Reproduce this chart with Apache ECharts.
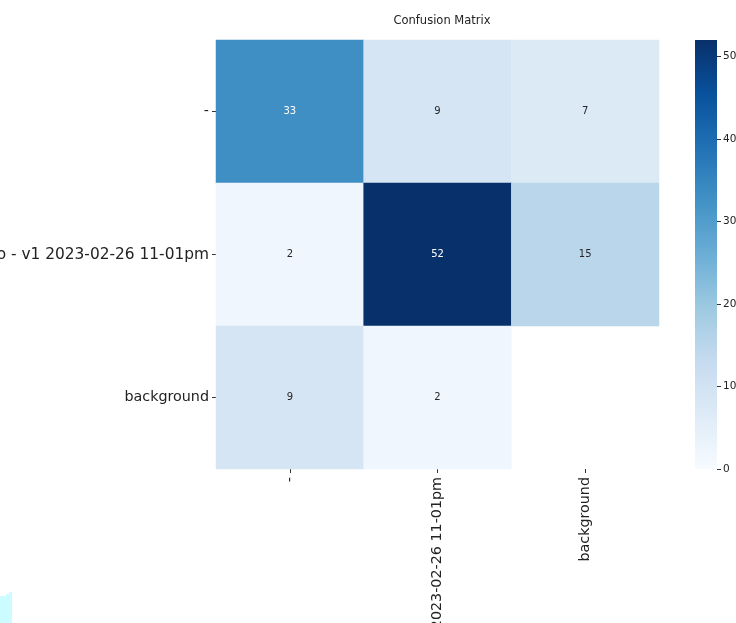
<!DOCTYPE html>
<html>
<head>
<meta charset="utf-8">
<script src="https://cdn.jsdelivr.net/npm/echarts@6/dist/echarts.min.js"></script>
<style>
  html, body { margin: 0; padding: 0; background: #ffffff; }
  #chart { width: 736px; height: 623px; }
</style>
</head>
<body>
<div id="chart"></div>
<script>
// Class names (predicted on x, true on y)
const classNames = ['-', 'logo - v1 2023-02-26 11-01pm', 'background'];

// Count matrix rows (true class), columns (predicted class); null = empty cell
const rowDash = [33, 9, 7];
const rowLogo = [2, 52, 15];
const rowBackground = [9, 2, null];

// Colour bar scale
const colorMin = 0;
const colorMax = 52;
const colorTicks = [0, 10, 20, 30, 40, 50];

// Matplotlib "Blues" colormap stops
const blues = ['#f7fbff', '#deebf7', '#c6dbef', '#9ecae1', '#6baed6',
               '#4292c6', '#2171b5', '#08519c', '#08306b'];

const matrix = [rowDash, rowLogo, rowBackground];
const cells = [];
matrix.forEach((row, r) => {
  row.forEach((v, c) => {
    if (v === null) return;
    cells.push({
      value: [c, r, v],
      label: { color: v > 30 ? '#ffffff' : '#262626' }
    });
  });
});

// Vertical gradient for the colour bar (top = max)
const barGradient = new echarts.graphic.LinearGradient(0, 0, 0, 1,
  blues.slice().reverse().map((c, i) => ({ offset: i / (blues.length - 1), color: c })));

const font = 'DejaVu Sans';
const chart = echarts.init(document.getElementById('chart'), null, { renderer: 'canvas' });

chart.setOption({
  backgroundColor: '#ffffff',
  animation: false,
  title: {
    text: 'Confusion Matrix',
    left: 437,
    top: 10,
    textAlign: 'center',
    textStyle: { fontFamily: font, fontSize: 11.5, fontWeight: 'normal', color: '#222' }
  },
  grid: [
    { left: 216, top: 40, width: 443, height: 429, containLabel: false, outerBoundsMode: 'none' },
    { left: 695, top: 40, width: 22, height: 429, containLabel: false, outerBoundsMode: 'none' }
  ],
  xAxis: [
    {
      type: 'category',
      gridIndex: 0,
      data: classNames,
      position: 'bottom',
      axisLine: { show: false },
      axisTick: { show: true, alignWithLabel: true, length: 4, lineStyle: { color: '#333' } },
      axisLabel: { rotate: 90, fontFamily: font, fontSize: 14.3, color: '#222', margin: 8, interval: 0 },
      splitLine: { show: false },
      splitArea: { show: false }
    },
    {
      type: 'category',
      gridIndex: 1,
      data: ['scale'],
      show: false
    }
  ],
  yAxis: [
    {
      type: 'category',
      gridIndex: 0,
      data: classNames,
      inverse: true,
      axisLine: { show: false },
      axisTick: { show: true, alignWithLabel: true, length: 4, lineStyle: { color: '#333' } },
      axisLabel: {
        fontFamily: font, fontSize: 14.3, color: '#222', margin: 7, interval: 0,
        formatter: v => (v.length > 12 ? '{wide|' + v + '}' : v),
        rich: { wide: { fontFamily: font, fontSize: 15.4, color: '#222' } }
      },
      splitLine: { show: false },
      splitArea: { show: false }
    },
    {
      type: 'value',
      gridIndex: 1,
      position: 'right',
      min: colorMin,
      max: colorMax,
      axisLine: { show: false },
      axisTick: { show: true, length: 4, customValues: colorTicks, lineStyle: { color: '#333' } },
      axisLabel: { fontFamily: font, fontSize: 10.5, color: '#222', margin: 6, customValues: colorTicks },
      splitLine: { show: false }
    }
  ],
  visualMap: {
    type: 'continuous',
    min: colorMin,
    max: colorMax,
    seriesIndex: 0,
    show: false,
    inRange: { color: blues }
  },
  series: [
    {
      type: 'heatmap',
      xAxisIndex: 0,
      yAxisIndex: 0,
      data: cells,
      label: {
        show: true,
        fontFamily: font,
        fontSize: 10,
        formatter: p => String(p.value[2])
      },
      itemStyle: { borderWidth: 0 },
      emphasis: { disabled: true }
    },
    {
      // colour bar
      type: 'bar',
      xAxisIndex: 1,
      yAxisIndex: 1,
      data: [colorMax],
      barWidth: '100%',
      itemStyle: { color: barGradient, borderRadius: 0 },
      silent: true
    }
  ],
  graphic: [
    {
      type: 'polygon',
      shape: { points: [[0, 596], [6, 596], [6, 594], [9, 594], [9, 592], [12, 592], [12, 623], [0, 623]] },
      style: { fill: '#ccfcff' },
      silent: true
    }
  ]
});
</script>
</body>
</html>
